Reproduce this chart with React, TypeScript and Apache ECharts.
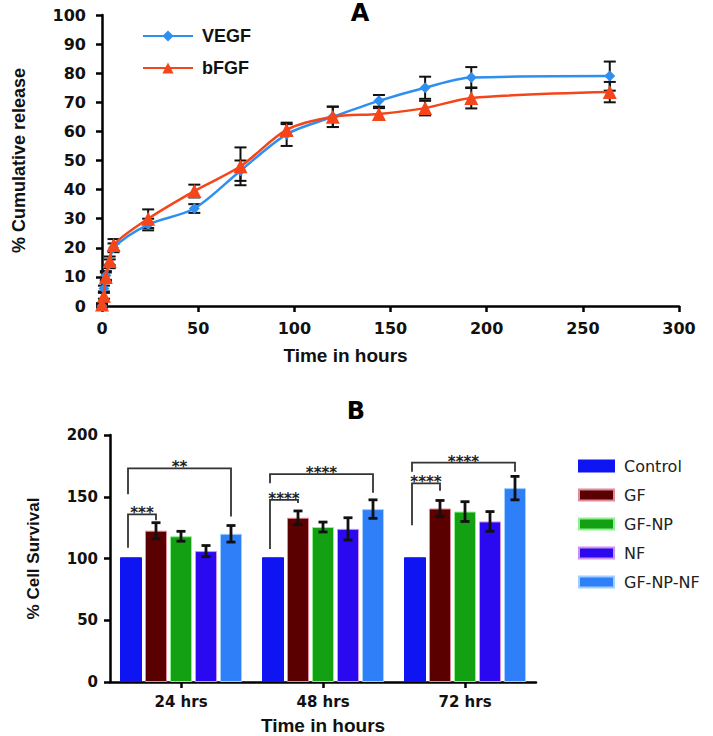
import React, { useEffect, useRef } from 'react';
import * as echarts from 'echarts';

// ---------- Panel A data ----------
const hours = [0, 1, 2, 4, 6, 24, 48, 72, 96, 120, 144, 168, 192, 264];
const vegf = [0, 6, 10.5, 14.5, 20, 28, 33.5, 46.5, 59, 65, 70.5, 75, 78.5, 79];
const vegfErr = [0.5, 1, 1.5, 1.5, 1.5, 2, 1.5, 3.5, 4, 3.5, 2, 3.8, 3.6, 5];
const bfgf = [0.5, 3.5, 10, 15.5, 21, 30, 39.5, 48, 60.5, 65, 66, 68, 71.5, 73.5];
const bfgfErr = [0.5, 1, 1.5, 1.5, 2, 3.2, 2.2, 6.5, 2, 3.5, 2, 2.5, 3.6, 3.5];

// ---------- Panel B data ----------
const groups = ['24 hrs', '48 hrs', '72 hrs'];
const barNames = ['Control', 'GF', 'GF-NP', 'NF', 'GF-NP-NF'];
const control = [101, 101, 101];
const gf = [122.5, 133, 140.5];
const gfErr = [6.5, 5.5, 6.5];
const gfnp = [118, 125.5, 138];
const gfnpErr = [4, 4, 8];
const nf = [106, 124, 130];
const nfErr = [4.5, 9, 8];
const gfnpnf = [120, 140, 157];
const gfnpnfErr = [6.7, 7.5, 9.5];

// significance brackets (from Control to bar index)
const bracketGroup = [0, 0, 1, 1, 2, 2];
const bracketTo = [1, 4, 1, 4, 1, 4];
const bracketTop = [135.8, 173, 147.4, 168.4, 160.9, 177.6];
const bracketLeftEnd = [108.7, 152, 107.7, 161, 127, 170.3];
const bracketRightEnd = [131, 134, 145, 153.3, 154.9, 170.3];
const bracketStars = ['***', '**', '****', '****', '****', '****'];

const BAR_W = 22;
const BAR_GAP = 3;

const tickFont = 'DejaVu Sans';
const titleFont = 'Liberation Sans';

export default function App() {
  const ref = useRef<HTMLDivElement>(null);
  useEffect(() => {
    if (!ref.current) return;
    const chart = echarts.init(ref.current, null, { renderer: 'svg' });

    const axisLine = { show: true, lineStyle: { color: '#000', width: 2.5 } };
    const axisTick = { show: true, length: 6, lineStyle: { color: '#000', width: 2.5 } };

    const errTop = (vals: number[], errs: number[]) =>
      hours.map((h, i) => [h, vals[i] - errs[i], vals[i] + errs[i]]);

    const barVals = [control, gf, gfnp, nf, gfnpnf];
    const barErrs = [null, gfErr, gfnpErr, nfErr, gfnpnfErr];
    const barErrData: number[][] = [];
    barVals.forEach((vals, k) => {
      const e = barErrs[k];
      if (!e) return;
      vals.forEach((v, c) => barErrData.push([c, k, v - e[c], v + e[c]]));
    });

    const bracketData = bracketGroup.map((g, i) => [
      g, bracketTo[i], bracketTop[i], bracketLeftEnd[i], bracketRightEnd[i],
    ]);

    const topErrRender = (params: any, api: any) => {
      const x = api.value(0);
      const lo = api.coord([x, api.value(1)]);
      const hi = api.coord([x, api.value(2)]);
      const w = 6;
      const st = { stroke: '#111', lineWidth: 2 };
      return {
        type: 'group',
        children: [
          { type: 'line', shape: { x1: lo[0], y1: lo[1], x2: hi[0], y2: hi[1] }, style: st },
          { type: 'line', shape: { x1: lo[0] - w, y1: lo[1], x2: lo[0] + w, y2: lo[1] }, style: st },
          { type: 'line', shape: { x1: hi[0] - w, y1: hi[1], x2: hi[0] + w, y2: hi[1] }, style: st },
        ],
      };
    };

    const barErrRender = (params: any, api: any) => {
      const c = api.value(0);
      const k = api.value(1);
      const lo = api.coord([c, api.value(2)]);
      const hi = api.coord([c, api.value(3)]);
      const x = lo[0] + (k - 2) * (BAR_W + BAR_GAP);
      const w = 4.5;
      const st = { stroke: '#111', lineWidth: 2.8 };
      return {
        type: 'group',
        children: [
          { type: 'line', shape: { x1: x, y1: lo[1], x2: x, y2: hi[1] }, style: st },
          { type: 'line', shape: { x1: x - w, y1: lo[1], x2: x + w, y2: lo[1] }, style: st },
          { type: 'line', shape: { x1: x - w, y1: hi[1], x2: x + w, y2: hi[1] }, style: st },
        ],
      };
    };

    const bracketRender = (params: any, api: any) => {
      const c = api.value(0);
      const to = api.value(1);
      const top = api.coord([c, api.value(2)]);
      const le = api.coord([c, api.value(3)]);
      const re = api.coord([c, api.value(4)]);
      const step = BAR_W + BAR_GAP;
      const xl = top[0] - 2 * step - 3;
      const xr = top[0] + (to - 2) * step;
      return {
        type: 'group',
        children: [
          {
            type: 'polyline',
            shape: { points: [[xl, le[1]], [xl, top[1]], [xr, top[1]], [xr, re[1]]] },
            style: { stroke: '#333', lineWidth: 1.8, fill: null },
          },
          {
            type: 'text',
            x: (xl + xr) / 2,
            y: top[1] - 1,
            style: {
              text: bracketStars[params.dataIndex],
              textAlign: 'center',
              textVerticalAlign: 'middle',
              font: 'bold 15px DejaVu Sans',
              fill: '#222',
            },
          },
        ],
      };
    };

    const barColors = ['#0f14f2', '#5a0000', '#13a013', '#2a08f0', '#2f7ff8'];
    const barBorders = ['#0f14f2', '#e08a9a', '#8ef08e', '#d090f0', '#a0d0ff'];

    const option: any = {
      animation: false,
      backgroundColor: '#fff',
      graphic: [
        { type: 'text', x: 360, y: 1, style: { text: 'A', textAlign: 'center', font: 'bold 24px DejaVu Sans', fill: '#000' } },
        { type: 'text', x: 356, y: 399, style: { text: 'B', textAlign: 'center', font: 'bold 24px DejaVu Sans', fill: '#000' } },
      ],
      legend: [
        {
          data: ['VEGF', 'bFGF'],
          orient: 'vertical',
          left: 137,
          top: 22,
          itemWidth: 50,
          itemHeight: 14,
          itemGap: 14,
          selectedMode: false,
          textStyle: { fontFamily: titleFont, fontWeight: 'bold', fontSize: 18, lineHeight: 18, color: '#111', padding: [0, 0, 0, 4] },
        },
        {
          data: barNames,
          orient: 'vertical',
          left: 573,
          top: 453,
          icon: 'rect',
          itemWidth: 35,
          itemHeight: 11,
          itemGap: 13,
          selectedMode: false,
          textStyle: { fontFamily: tickFont, fontSize: 16, lineHeight: 16, color: '#222', padding: [0, 0, 0, 5] },
        },
      ],
      grid: [
        { left: 102, top: 15, width: 577, height: 291 },
        { left: 110, top: 435, width: 426, height: 247 },
      ],
      xAxis: [
        {
          gridIndex: 0,
          type: 'value',
          min: 0,
          max: 300,
          interval: 50,
          name: 'Time in hours',
          nameLocation: 'middle',
          nameGap: 40,
          nameTextStyle: { fontFamily: titleFont, fontWeight: 'bold', fontSize: 19, color: '#111', padding: [0, 90, 0, 0] },
          axisLine,
          axisTick,
          splitLine: { show: false },
          axisLabel: { fontFamily: tickFont, fontWeight: 'bold', fontSize: 16, color: '#111', margin: 14 },
        },
        {
          gridIndex: 1,
          type: 'category',
          data: groups,
          name: 'Time in hours',
          nameLocation: 'middle',
          nameGap: 34,
          nameTextStyle: { fontFamily: titleFont, fontWeight: 'bold', fontSize: 19, color: '#111' },
          axisLine,
          axisTick: { ...axisTick, alignWithLabel: true },
          axisLabel: { fontFamily: tickFont, fontWeight: 'bold', fontSize: 15, color: '#111', margin: 12 },
        },
      ],
      yAxis: [
        {
          gridIndex: 0,
          type: 'value',
          min: 0,
          max: 100,
          interval: 10,
          name: '% Cumulative release',
          nameLocation: 'middle',
          nameGap: 74,
          nameTextStyle: { fontFamily: titleFont, fontWeight: 'bold', fontSize: 18, color: '#111' },
          axisLine,
          axisTick,
          splitLine: { show: false },
          axisLabel: { fontFamily: tickFont, fontWeight: 'bold', fontSize: 16, color: '#111', margin: 16 },
        },
        {
          gridIndex: 1,
          type: 'value',
          min: 0,
          max: 200,
          interval: 50,
          name: '% Cell Survival',
          nameLocation: 'middle',
          nameGap: 68,
          nameTextStyle: { fontFamily: titleFont, fontWeight: 'bold', fontSize: 17, color: '#111' },
          axisLine,
          axisTick,
          splitLine: { show: false },
          axisLabel: { fontFamily: tickFont, fontWeight: 'bold', fontSize: 15, color: '#111', margin: 12 },
        },
      ],
      series: [
        {
          type: 'custom',
          name: 'vegfErr',
          xAxisIndex: 0,
          yAxisIndex: 0,
          renderItem: topErrRender,
          encode: { x: 0, y: [1, 2] },
          data: errTop(vegf, vegfErr),
          z: 1,
          clip: false,
        },
        {
          type: 'custom',
          name: 'bfgfErr',
          xAxisIndex: 0,
          yAxisIndex: 0,
          renderItem: topErrRender,
          encode: { x: 0, y: [1, 2] },
          data: errTop(bfgf, bfgfErr),
          z: 1,
          clip: false,
        },
        {
          type: 'line',
          name: 'VEGF',
          xAxisIndex: 0,
          yAxisIndex: 0,
          smooth: 0.3,
          data: hours.map((h, i) => [h, vegf[i]]),
          symbol: 'diamond',
          symbolSize: 11,
          lineStyle: { color: '#2f8ff0', width: 2.5 },
          itemStyle: { color: '#2f8ff0' },
          z: 3,
          clip: false,
        },
        {
          type: 'line',
          name: 'bFGF',
          xAxisIndex: 0,
          yAxisIndex: 0,
          smooth: 0.3,
          data: hours.map((h, i) => [h, bfgf[i]]),
          symbol: 'triangle',
          symbolSize: 14,
          lineStyle: { color: '#f5451a', width: 2.5 },
          itemStyle: { color: '#f5451a' },
          z: 4,
          clip: false,
        },
        ...barNames.map((n, k) => ({
          type: 'bar',
          name: n,
          xAxisIndex: 1,
          yAxisIndex: 1,
          data: barVals[k],
          barWidth: BAR_W,
          barGap: (BAR_GAP / BAR_W) * 100 + '%',
          itemStyle: { color: barColors[k], borderColor: barBorders[k], borderWidth: 1 },
          z: 2,
        })),
        {
          type: 'custom',
          name: 'barErr',
          xAxisIndex: 1,
          yAxisIndex: 1,
          renderItem: barErrRender,
          encode: { x: 0, y: [2, 3] },
          data: barErrData,
          z: 5,
        },
        {
          type: 'custom',
          name: 'brackets',
          xAxisIndex: 1,
          yAxisIndex: 1,
          renderItem: bracketRender,
          encode: { x: 0, y: [2, 3, 4] },
          data: bracketData,
          z: 5,
        },
      ],
    };

    chart.setOption(option);
    return () => chart.dispose();
  }, []);

  return (
    <div
      ref={ref}
      style={{ position: 'absolute', left: 0, top: 0, width: 713, height: 736, background: '#fff' }}
    />
  );
}
